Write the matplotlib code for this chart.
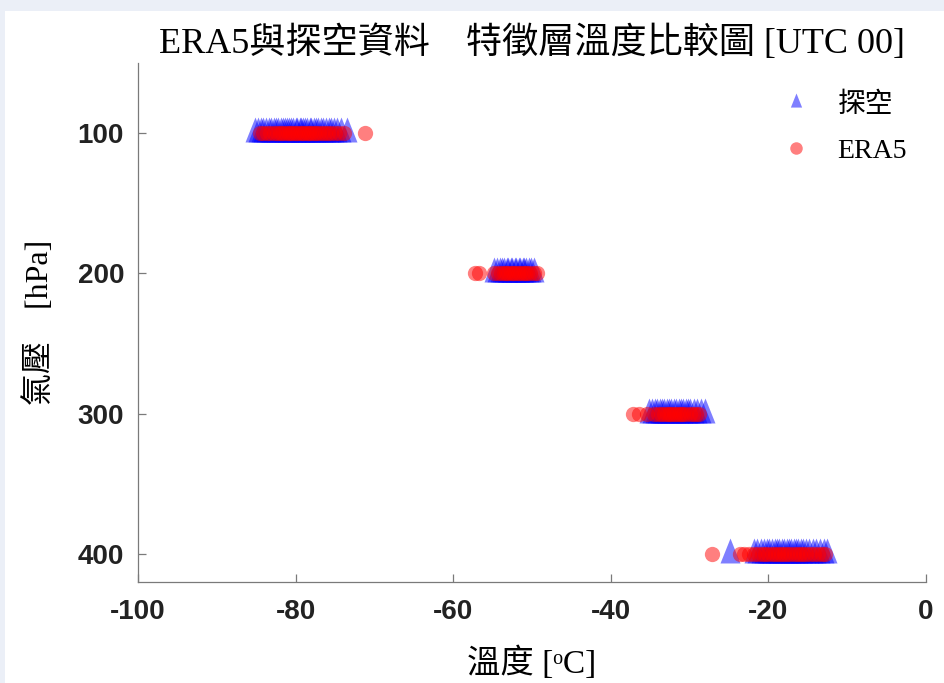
import numpy as np
import matplotlib; matplotlib.use("Agg")
import matplotlib.pyplot as plt
from matplotlib.patches import Rectangle

plt.rcParams["font.family"] = ["Liberation Serif", "Noto Sans CJK TC", "DejaVu Sans"]
plt.rcParams["axes.unicode_minus"] = False

# sounding (探空) temperatures at each feature level [degC]
sonde_100 = [-85.1, -84.8, -84.4, -84.1, -83.8, -83.4, -83.1, -82.8, -82.5, -82.2,
             -81.9, -81.6, -81.4, -81.1, -80.8, -80.6, -80.3, -80.0, -79.8, -79.5,
             -79.3, -79.0, -78.8, -78.5, -78.2, -78.0, -77.7, -77.4, -77.1, -76.8,
             -76.5, -76.2, -75.8, -75.5, -75.1, -74.7, -74.2, -73.5]
sonde_200 = [-54.8, -54.4, -54.1, -53.8, -53.5, -53.2, -53.0, -52.7, -52.5, -52.2,
             -52.0, -51.7, -51.5, -51.2, -51.0, -50.7, -50.4, -50.1, -49.7]
sonde_300 = [-35.2, -34.8, -34.4, -34.1, -33.8, -33.5, -33.2, -32.9, -32.6, -32.3,
             -32.0, -31.7, -31.4, -31.1, -30.8, -30.5, -30.2, -29.9, -29.5, -29.1,
             -28.6, -28.0]
sonde_400 = [-24.9, -21.8, -21.4, -21.0, -20.6, -20.2, -19.9, -19.6, -19.2, -18.9,
             -18.6, -18.3, -18.0, -17.7, -17.4, -17.1, -16.8, -16.5, -16.2, -15.9,
             -15.6, -15.2, -14.8, -14.4, -14.0, -13.5, -13.0, -12.5]

# ERA5 temperatures at the same levels [degC]
era5_100 = [-84.5, -84.1, -83.6, -83.2, -82.8, -82.4, -82.0, -81.7, -81.3, -81.0,
            -80.7, -80.4, -80.1, -79.8, -79.5, -79.2, -78.9, -78.6, -78.3, -78.0,
            -77.7, -77.4, -77.0, -76.7, -76.3, -75.9, -75.5, -75.0, -74.5, -73.9,
            -71.2]
era5_200 = [-57.2, -56.7, -54.8, -54.3, -53.9, -53.6, -53.3, -53.0, -52.7, -52.4,
            -52.1, -51.8, -51.5, -51.2, -50.9, -50.6, -50.2, -49.8, -49.4]
era5_300 = [-37.2, -36.4, -35.4, -34.5, -34.0, -33.6, -33.2, -32.9, -32.6, -32.3,
            -32.0, -31.7, -31.4, -31.1, -30.8, -30.4, -30.0, -29.6, -29.2, -28.8]
era5_400 = [-27.2, -23.6, -23.1, -22.4, -21.8, -21.3, -20.8, -20.4, -20.0, -19.6,
            -19.2, -18.8, -18.4, -18.0, -17.6, -17.2, -16.8, -16.4, -16.0, -15.6,
            -15.2, -14.7, -14.2, -13.7, -13.2, -12.8]

levels = [100, 200, 300, 400]
sonde = [sonde_100, sonde_200, sonde_300, sonde_400]
era5 = [era5_100, era5_200, era5_300, era5_400]

fig = plt.figure(figsize=(9.45, 6.83), dpi=100)
fig.patch.set_facecolor("#ebeff7")
fig.add_artist(Rectangle((5 / 945, 0), 1, 1 - 11 / 683, transform=fig.transFigure,
                         facecolor="white", edgecolor="none", zorder=-1))
ax = fig.add_axes([138 / 945, 101 / 683, 788 / 945, 519 / 683])
ax.set_facecolor("white")

sx = np.concatenate(sonde)
sy = np.concatenate([[p] * len(v) for p, v in zip(levels, sonde)])
ex = np.concatenate(era5)
ey = np.concatenate([[p] * len(v) for p, v in zip(levels, era5)])

tri = [(0, 1.6), (-1, -0.9), (1, -0.9), (0, 1.6)]  # MATLAB-like taller triangle
ax.plot(sx, sy, ls="none", marker=tri, ms=23, color="blue", alpha=0.5, mew=0,
        label="探空")
ax.plot(ex, ey, ls="none", marker="o", ms=11, color="red", alpha=0.5, mew=0,
        label="ERA5")

ax.set_xlim(-100, 0)
ax.set_ylim(420, 50)
ax.set_xticks(np.arange(-100, 1, 20))
ax.set_yticks(levels)
for sp in ["top", "right"]:
    ax.spines[sp].set_visible(False)
for sp in ["left", "bottom"]:
    ax.spines[sp].set_color("#7a7a7a")
    ax.spines[sp].set_linewidth(0.9)
ax.tick_params(direction="in", length=6, width=0.9, color="#7a7a7a")
ax.tick_params(axis="x", pad=12)
ax.tick_params(axis="y", pad=10)
for lab in ax.get_xticklabels() + ax.get_yticklabels():
    lab.set_family("Liberation Sans")
    lab.set_fontweight("bold")
    lab.set_fontsize(20)
    lab.set_color("#222222")

ax.set_title("ERA5與探空資料\u3000特徵層溫度比較圖 [UTC 00]", fontsize=26, pad=7)
ax.set_ylabel("氣壓\u3000[hPa]", fontsize=23, labelpad=16)
ax.set_xlabel("溫度 [ᵒC]", fontsize=24, labelpad=16)

leg = ax.legend(loc="upper right", bbox_to_anchor=(0.99, 0.965), borderaxespad=0,
                frameon=False, fontsize=20, handlelength=1.0, handletextpad=1.0,
                labelspacing=0.75)
leg.legend_handles[0].set_markersize(13)
leg.legend_handles[1].set_markersize(9)

fig.savefig("out.png", dpi=100, facecolor=fig.get_facecolor())
